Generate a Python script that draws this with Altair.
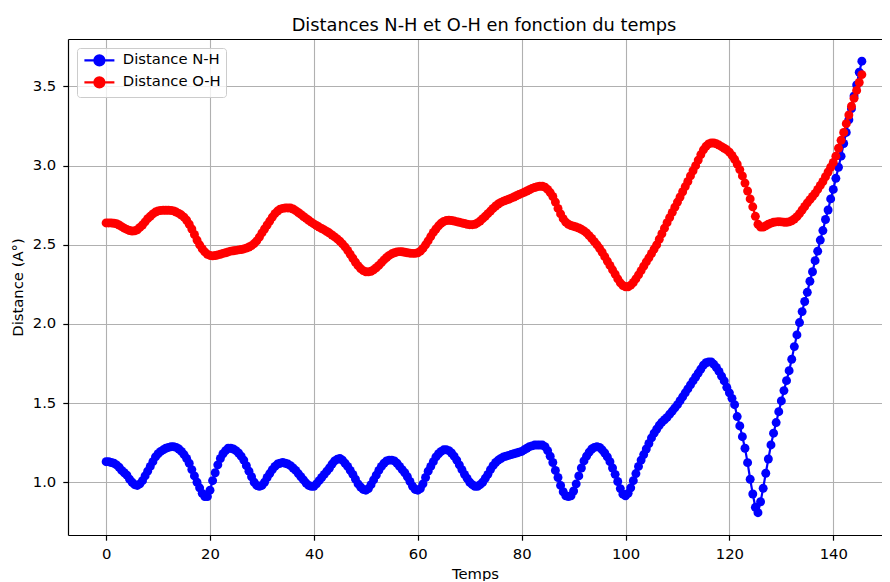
import altair as alt
import pandas as pd

TIME_STEP = 0.5

series_names = ["Distance N-H", "Distance O-H"]
series_colors = ["blue", "red"]
x_ticks = [0, 20, 40, 60, 80, 100, 120, 140]
y_ticks = [1.0, 1.5, 2.0, 2.5, 3.0, 3.5]

nh = [
    1.13, 1.13, 1.125, 1.12, 1.11, 1.095, 1.075, 1.06, 1.045, 1.02,
    1.0, 0.985, 0.98, 0.99, 1.01, 1.04, 1.07, 1.10, 1.13, 1.16,
    1.18, 1.195, 1.205, 1.215, 1.22, 1.225, 1.225, 1.22, 1.21, 1.195,
    1.175, 1.15, 1.12, 1.08, 1.04, 1.0, 0.965, 0.93, 0.91, 0.91,
    0.95, 1.01, 1.06, 1.11, 1.15, 1.18, 1.20, 1.215, 1.215, 1.21,
    1.20, 1.185, 1.165, 1.14, 1.105, 1.07, 1.035, 1.0, 0.98, 0.975,
    0.98, 1.0, 1.03, 1.055, 1.08, 1.10, 1.115, 1.12, 1.125, 1.12,
    1.115, 1.105, 1.09, 1.075, 1.055, 1.035, 1.015, 0.995, 0.98, 0.975,
    0.975, 0.99, 1.01, 1.03, 1.05, 1.07, 1.09, 1.115, 1.135, 1.145,
    1.15, 1.14, 1.12, 1.10, 1.075, 1.05, 1.02, 0.99, 0.97, 0.955,
    0.95, 0.96, 0.985, 1.015, 1.045, 1.075, 1.10, 1.12, 1.135, 1.14,
    1.14, 1.135, 1.12, 1.10, 1.08, 1.06, 1.035, 1.005, 0.975, 0.955,
    0.95, 0.96, 0.99, 1.03, 1.07, 1.10, 1.13, 1.16, 1.18, 1.195,
    1.205, 1.205, 1.20, 1.185, 1.165, 1.14, 1.11, 1.08, 1.05, 1.025,
    1.0, 0.985, 0.975, 0.975, 0.985, 1.0, 1.025, 1.05, 1.08, 1.105,
    1.125, 1.14, 1.15, 1.16, 1.165, 1.17, 1.175, 1.18, 1.185, 1.19,
    1.195, 1.205, 1.215, 1.225, 1.23, 1.235, 1.235, 1.235, 1.235, 1.225,
    1.20, 1.165, 1.125, 1.075, 1.03, 0.98, 0.94, 0.915, 0.91, 0.915,
    0.945, 0.99, 1.04, 1.09, 1.135, 1.165, 1.19, 1.21, 1.22, 1.225,
    1.22, 1.205, 1.185, 1.16, 1.13, 1.09, 1.05, 1.005, 0.96, 0.925,
    0.915, 0.93, 0.965, 1.01, 1.055, 1.10, 1.14, 1.175, 1.21, 1.245,
    1.28, 1.31, 1.335, 1.36, 1.38, 1.395, 1.41, 1.43, 1.45, 1.47,
    1.49, 1.515, 1.54, 1.565, 1.59, 1.615, 1.64, 1.665, 1.69, 1.715,
    1.74, 1.755, 1.76, 1.76, 1.745, 1.725, 1.70, 1.67, 1.64, 1.60,
    1.565, 1.53, 1.49, 1.415, 1.356, 1.288, 1.215, 1.124, 1.019, 0.926,
    0.842, 0.808, 0.877, 0.962, 1.057, 1.147, 1.236, 1.31, 1.377, 1.446,
    1.514, 1.579, 1.642, 1.705, 1.777, 1.857, 1.931, 2.009, 2.078, 2.142,
    2.20, 2.27, 2.33, 2.40, 2.46, 2.53, 2.59, 2.66, 2.72, 2.79,
    2.85, 2.92, 2.99, 3.06, 3.14, 3.21, 3.29, 3.36, 3.44, 3.51, 3.59, 3.66,
]

oh = [
    2.638, 2.638, 2.638, 2.636, 2.633, 2.625, 2.615, 2.605, 2.597, 2.59,
    2.587, 2.588, 2.595, 2.61, 2.625, 2.645, 2.665, 2.68, 2.695, 2.707,
    2.714, 2.717, 2.718, 2.718, 2.718, 2.717, 2.714, 2.707, 2.698, 2.688,
    2.675, 2.655, 2.63, 2.60, 2.565, 2.53, 2.50, 2.475, 2.455, 2.44,
    2.433, 2.43, 2.432, 2.436, 2.44, 2.446, 2.45, 2.455, 2.46, 2.462,
    2.465, 2.468, 2.47, 2.474, 2.479, 2.486, 2.495, 2.508, 2.525, 2.548,
    2.575, 2.60, 2.625, 2.65, 2.675, 2.697, 2.713, 2.725, 2.73, 2.733,
    2.733, 2.732, 2.726, 2.716, 2.704, 2.692, 2.679, 2.667, 2.655, 2.643,
    2.632, 2.622, 2.612, 2.603, 2.594, 2.584, 2.574, 2.562, 2.55, 2.537,
    2.523, 2.506, 2.487, 2.465, 2.44, 2.415, 2.39, 2.368, 2.35, 2.337,
    2.33, 2.329, 2.333, 2.342, 2.355, 2.37, 2.387, 2.405, 2.42, 2.433,
    2.443, 2.45, 2.455, 2.457, 2.456, 2.453, 2.45, 2.447, 2.446, 2.446,
    2.45, 2.46, 2.477, 2.50, 2.525, 2.552, 2.578, 2.60, 2.62, 2.636,
    2.647, 2.653, 2.655, 2.653, 2.65, 2.646, 2.642, 2.638, 2.634, 2.63,
    2.627, 2.627, 2.63, 2.638, 2.65, 2.665, 2.68, 2.697, 2.713, 2.73,
    2.745, 2.758, 2.768, 2.776, 2.782, 2.788, 2.795, 2.802, 2.81, 2.818,
    2.825, 2.832, 2.84, 2.848, 2.856, 2.862, 2.867, 2.87, 2.87, 2.864,
    2.85, 2.83, 2.805, 2.77, 2.73, 2.695, 2.665, 2.643, 2.63, 2.622,
    2.617, 2.612, 2.606, 2.598, 2.588, 2.575, 2.558, 2.54, 2.52, 2.50,
    2.478, 2.453, 2.425, 2.397, 2.37, 2.342, 2.315, 2.285, 2.26, 2.243,
    2.235, 2.235, 2.245, 2.262, 2.285, 2.31, 2.337, 2.365, 2.392, 2.418,
    2.445, 2.473, 2.50, 2.535, 2.57, 2.605, 2.64, 2.672, 2.705, 2.738,
    2.77, 2.802, 2.835, 2.868, 2.90, 2.935, 2.968, 3.0, 3.035, 3.07,
    3.10, 3.122, 3.137, 3.143, 3.143, 3.138, 3.13, 3.12, 3.11, 3.10,
    3.085, 3.065, 3.04, 3.01, 2.975, 2.935, 2.89, 2.84, 2.79, 2.74,
    2.68, 2.63, 2.612, 2.612, 2.62, 2.63, 2.637, 2.642, 2.645, 2.646,
    2.645, 2.643, 2.642, 2.645, 2.652, 2.663, 2.678, 2.697, 2.72, 2.742,
    2.765, 2.785, 2.805, 2.825, 2.85, 2.875, 2.90, 2.93, 2.96, 2.99,
    3.02, 3.06, 3.11, 3.16, 3.21, 3.265, 3.32, 3.375, 3.425, 3.475, 3.525, 3.575,
]

times = [round(i * TIME_STEP, 1) for i in range(len(nh))]

df = pd.DataFrame({
    "temps": times + times,
    "distance": nh + oh,
    "serie": [series_names[0]] * len(nh) + [series_names[1]] * len(oh),
})

FONT = "DejaVu Sans"
FS = 14.8
PLOT_W = 814
PLOT_H = 496
X_DOMAIN = [-7.34, 149.38]
Y_DOMAIN = [0.667, 3.80]

x_scale = alt.Scale(domain=X_DOMAIN, nice=False, zero=False)
y_scale = alt.Scale(domain=Y_DOMAIN, nice=False, zero=False)

x_bottom = alt.X(
    "temps:Q", scale=x_scale,
    axis=alt.Axis(values=x_ticks, format="d", title="Temps", orient="bottom",
                  labelPadding=6, titlePadding=5,
                  labelFlush=False, labelOverlap=False),
)
x_top = alt.X(
    "temps:Q", scale=x_scale,
    axis=alt.Axis(orient="top", title=None, labels=False, ticks=False, grid=False,
                  domain=True),
)
x_none = alt.X("temps:Q", scale=x_scale, axis=None)

y_enc = alt.Y(
    "distance:Q", scale=y_scale,
    axis=alt.Axis(values=y_ticks, format=".1f", title="Distance (A°)",
                  labelPadding=7, titlePadding=7,
                  labelFlush=False, labelOverlap=False),
)

LEGEND_PATH = "M-1,0H5M3,0A1,1,0,1,1,1,0A1,1,0,1,1,3,0Z"

color_enc = alt.Color(
    "serie:N",
    scale=alt.Scale(domain=series_names, range=series_colors),
    legend=alt.Legend(
        title=None, orient="none", legendX=9, legendY=9,
        symbolType=LEGEND_PATH, symbolSize=100, symbolStrokeWidth=2.2,
        symbolOpacity=1,
        labelOffset=26, labelFontSize=FS, labelFont=FONT, labelColor="black",
        padding=5, rowPadding=3,
        fillColor="rgba(255,255,255,0.8)", strokeColor="#cccccc",
        cornerRadius=3,
    ),
)

base = alt.Chart(df)
nh_base = base.transform_filter(alt.datum.serie == series_names[0])
oh_base = base.transform_filter(alt.datum.serie == series_names[1])

layers = [
    nh_base.mark_point(filled=True, size=80, opacity=1).encode(x=x_bottom, y=y_enc, color=color_enc),
    nh_base.mark_line(strokeWidth=2.2).encode(x=x_none, y=y_enc, color=color_enc),
    oh_base.mark_point(filled=True, size=80, opacity=1).encode(x=x_none, y=y_enc, color=color_enc),
    oh_base.mark_line(strokeWidth=2.2).encode(x=x_top, y=y_enc, color=color_enc),
]

chart = alt.layer(*layers).resolve_axis(x="independent").properties(
    width=PLOT_W,
    height=PLOT_H,
    title=alt.Title("Distances N-H et O-H en fonction du temps", fontSize=17.8, font=FONT,
                    fontWeight="normal", color="black", offset=7.4, dy=17.2, dx=9,
                    baseline="alphabetic", anchor="middle"),
    autosize=alt.AutoSizeParams(type="none"),
    padding={"left": 60, "top": 31, "right": 0, "bottom": 46},
).configure_view(
    stroke=None
).configure_axis(
    labelFont=FONT, labelFontSize=FS, labelColor="black",
    titleFont=FONT, titleFontSize=FS, titleFontWeight="normal", titleColor="black",
    tickColor="black", tickSize=5.2, tickWidth=1.2,
    domainColor="black", domainWidth=1.2,
    gridColor="#b0b0b0", gridWidth=1.1, gridOpacity=1,
)

chart.save("out.html", embed_options={"renderer": "svg", "actions": False})
